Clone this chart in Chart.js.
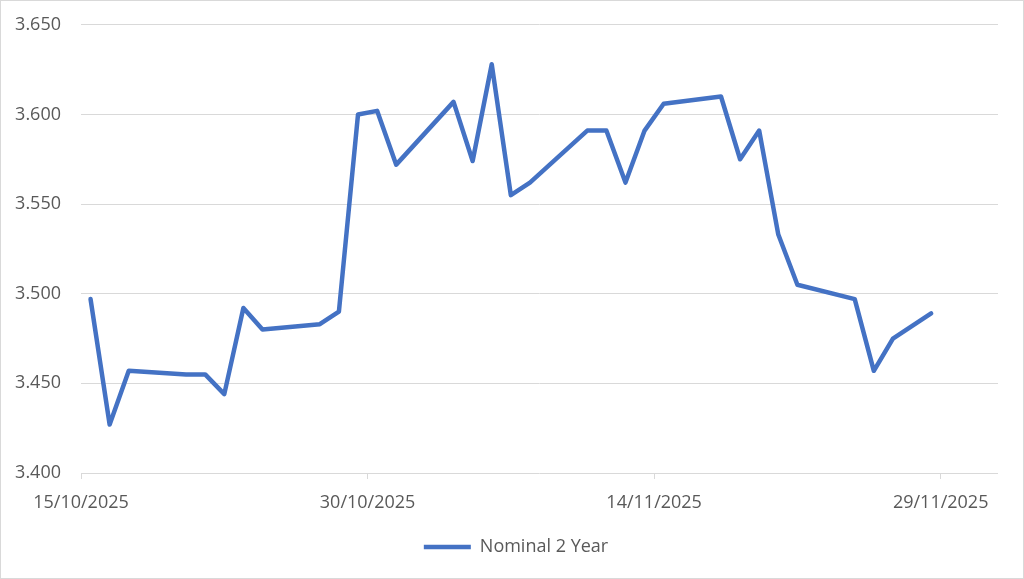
<!DOCTYPE html>
<html>
<head>
<meta charset="utf-8">
<script src="https://cdn.jsdelivr.net/npm/chart.js@4.4.1/dist/chart.umd.min.js"></script>
<style>
  html, body { margin: 0; padding: 0; background: #ffffff; }
  #wrap { position: relative; width: 1024px; height: 579px; box-sizing: border-box; border: 1px solid #d9d9d9; background: #fff; }
  canvas { display: block; }
</style>
</head>
<body>
<div id="wrap"><canvas id="c" width="1022" height="577"></canvas></div>
<script>
// ---- data ----
const seriesName = 'Nominal 2 Year';
const dates = [
  '2025-10-15','2025-10-16','2025-10-17','2025-10-20','2025-10-21','2025-10-22','2025-10-23','2025-10-24',
  '2025-10-27','2025-10-28','2025-10-29','2025-10-30','2025-10-31',
  '2025-11-03','2025-11-04','2025-11-05','2025-11-06','2025-11-07',
  '2025-11-10','2025-11-11','2025-11-12','2025-11-13','2025-11-14',
  '2025-11-17','2025-11-18','2025-11-19','2025-11-20','2025-11-21',
  '2025-11-24','2025-11-25','2025-11-26','2025-11-28'
];
const values = [
  3.497, 3.427, 3.457, 3.455, 3.455, 3.444, 3.492, 3.480,
  3.483, 3.490, 3.600, 3.602, 3.572,
  3.607, 3.574, 3.628, 3.555, 3.562,
  3.591, 3.591, 3.562, 3.591, 3.606,
  3.610, 3.575, 3.591, 3.533, 3.505,
  3.497, 3.457, 3.475, 3.489
];
const xTickDates = ['2025-10-15','2025-10-30','2025-11-14','2025-11-29'];
const axisStartDate = '2025-10-15';
const axisEndDate = '2025-12-02';
const yMin = 3.400, yMax = 3.650, yStep = 0.050;

// ---- helpers ----
function dayNum(s) {
  const p = s.split('-').map(Number);
  const a = axisStartDate.split('-').map(Number);
  return (Date.UTC(p[0], p[1]-1, p[2]) - Date.UTC(a[0], a[1]-1, a[2])) / 86400000;
}
function fmtDay(n) {
  const a = axisStartDate.split('-').map(Number);
  const d = new Date(Date.UTC(a[0], a[1]-1, a[2]) + Math.round(n) * 86400000);
  const dd = String(d.getUTCDate()).padStart(2, '0');
  const mm = String(d.getUTCMonth() + 1).padStart(2, '0');
  return dd + '/' + mm + '/' + d.getUTCFullYear();
}
const points = dates.map((d, i) => ({ x: dayNum(d) + 0.5, y: values[i] }));
const xTicks = xTickDates.map(dayNum);

const FONT = { family: '"Open Sans", sans-serif', size: 18 };
const TXT = '#595959';
const GRID = '#d9d9d9';
const BLUE = '#4472C4';

new Chart(document.getElementById('c'), {
  type: 'line',
  data: {
    datasets: [{
      label: seriesName,
      data: points,
      borderColor: BLUE,
      backgroundColor: BLUE,
      borderWidth: 4.5,
      borderJoinStyle: 'round',
      borderCapStyle: 'round',
      pointRadius: 0,
      pointHoverRadius: 0,
      tension: 0,
      fill: false,
      pointStyle: 'line'
    }]
  },
  options: {
    responsive: false,
    animation: false,
    events: [],
    layout: { padding: { top: 10, right: 0, bottom: 12, left: 8 } },
    scales: {
      x: {
        type: 'linear',
        min: dayNum(axisStartDate),
        max: dayNum(axisEndDate),
        afterBuildTicks: (s) => { s.ticks = xTicks.map(v => ({ value: v })); },
        afterFit: (s) => { s.height = 65; },
        ticks: {
          font: FONT, color: TXT, padding: 13, maxRotation: 0, autoSkip: false,
          callback: (v) => fmtDay(v)
        },
        grid: { display: true, drawOnChartArea: false, drawTicks: true, tickLength: 6, color: GRID, lineWidth: 1 },
        border: { display: false }
      },
      y: {
        min: yMin, max: yMax,
        afterFit: (s) => { s.width = 72; },
        ticks: { stepSize: yStep, font: FONT, color: TXT, padding: 13, callback: (v) => v.toFixed(3) },
        grid: { color: GRID, lineWidth: 1, drawTicks: true, tickLength: 7, tickColor: 'rgba(0,0,0,0)' },
        border: { display: false }
      },
      yRight: {
        position: 'right',
        display: true,
        afterFit: (s) => { s.width = 25; },
        ticks: { display: false },
        grid: { display: false },
        border: { display: false }
      }
    },
    plugins: {
      legend: {
        position: 'bottom',
        labels: {
          font: FONT, color: TXT, usePointStyle: true, pointStyleWidth: 47, padding: 0
        }
      },
      tooltip: { enabled: false }
    }
  }
});
</script>
</body>
</html>
